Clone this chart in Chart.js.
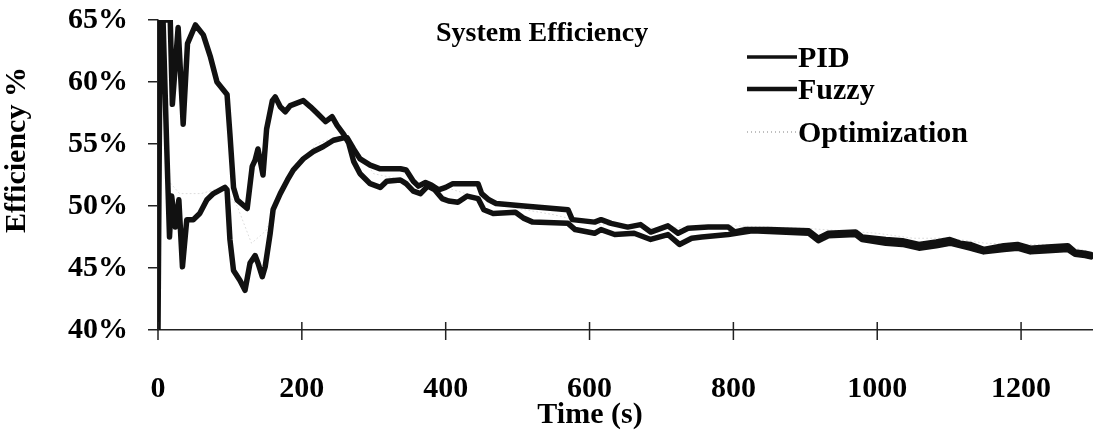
<!DOCTYPE html>
<html>
<head>
<meta charset="utf-8">
<script src="https://cdn.jsdelivr.net/npm/chart.js@4.4.1/dist/chart.umd.min.js"></script>
<style>
  html, body { margin: 0; padding: 0; background: #fff; }
  #wrap { width: 1093px; height: 438px; }
</style>
</head>
<body>
<div id="wrap"><canvas id="chart" width="1093" height="438"></canvas></div>
<script>
'use strict';

/* DATA */
const xTicks = [0, 200, 400, 600, 800, 1000, 1200];
const yTicks = [40, 45, 50, 55, 60, 65];
const seriesNames = ['PID', 'Fuzzy', 'Optimization'];

const pidTime = [0, 17, 20, 28, 35, 41, 52, 63, 73, 82, 89, 96, 100, 105, 110, 124, 131, 135, 139, 146,
  151, 159, 163, 170, 177, 184, 193, 202, 212, 221, 233, 242, 249, 258, 265, 272, 281, 295, 309, 318,
  337, 345, 355, 365, 375, 385, 395, 404, 417, 430, 445, 453, 466, 497, 509, 521, 570, 580, 607, 616,
  635, 662, 685, 709, 725, 742, 756, 793, 826, 905, 918, 932, 970, 979, 1012, 1035, 1058, 1082, 1101,
  1115, 1129, 1148, 1176, 1195, 1213, 1237, 1265, 1275, 1289, 1297];
const pidEff = [65, 65, 58.2, 64.4, 56.6, 63.1, 64.6, 63.8, 62.0, 60.0, 59.5, 59.0, 55.8, 51.5, 50.5, 49.8, 53.2, 53.7, 54.6, 52.5,
  56.2, 58.5, 58.8, 58.0, 57.6, 58.1, 58.3, 58.5, 58.0, 57.5, 56.8, 57.2, 56.5, 55.8, 55.1, 53.6, 52.6, 51.8, 51.5, 52.0,
  52.1, 51.8, 51.2, 51.0, 51.6, 51.3, 50.6, 50.4, 50.3, 50.8, 50.6, 49.7, 49.4, 49.5, 49.0, 48.7, 48.6, 48.1, 47.8, 48.1,
  47.7, 47.8, 47.3, 47.7, 46.9, 47.4, 47.5, 47.7, 48.0, 47.8, 47.2, 47.6, 47.7, 47.3, 47.0, 46.9, 46.6, 46.8, 47.0,
  46.8, 46.6, 46.3, 46.5, 46.6, 46.3, 46.4, 46.5, 46.1, 46.0, 45.9];

const fuzzyTime = [0, 3, 7, 12, 16, 19, 24, 29, 34, 40, 49, 58, 68, 77, 93, 96, 100, 105, 114, 121,
  128, 135, 139, 145, 149, 156, 160, 170, 180, 188, 202, 216, 230, 244, 258, 263, 272, 281, 295, 309,
  337, 345, 355, 362, 372, 380, 390, 400, 410, 445, 450, 460, 470, 509, 570, 576, 607, 616, 630, 653,
  671, 685, 709, 723, 737, 765, 793, 802, 816, 849, 905, 918, 932, 970, 979, 1012, 1035, 1058, 1082,
  1101, 1115, 1129, 1148, 1176, 1195, 1213, 1237, 1265, 1275, 1289, 1297];
const fuzzyEff = [40, 65, 65, 55, 47.5, 50.8, 48.3, 50.5, 45.1, 48.9, 48.9, 49.4, 50.5, 51.0, 51.5, 51.3, 47.3, 44.8, 44.0, 43.2,
  45.4, 46.0, 45.4, 44.3, 45.1, 47.8, 49.7, 51.0, 52.1, 52.9, 53.8, 54.4, 54.8, 55.3, 55.5, 55.5, 54.6, 53.8, 53.3, 53.0,
  53.0, 52.9, 52.0, 51.6, 51.9, 51.7, 51.3, 51.5, 51.8, 51.8, 51.0, 50.5, 50.2, 50.0, 49.7, 48.9, 48.7, 48.9, 48.6, 48.3,
  48.5, 47.9, 48.4, 47.8, 48.2, 48.3, 48.3, 47.9, 48.1, 48.1, 48.0, 47.4, 47.8, 47.9, 47.5, 47.3, 47.2, 46.9, 47.1,
  47.3, 47.0, 46.9, 46.5, 46.8, 46.9, 46.6, 46.7, 46.8, 46.3, 46.2, 46.1];

const optTime = [0, 5, 15, 30, 60, 90, 110, 130, 150, 180, 220, 260, 300, 350, 400, 450, 500, 550, 600,
  650, 700, 750, 800, 850, 900, 950, 1000, 1050, 1100, 1150, 1200, 1250, 1290];
const optEff = [40, 62, 52, 51, 51, 51.5, 50, 47, 48, 52, 55, 55.8, 52.6, 52, 51.5, 50.6, 49.8, 49.3, 48.6,
  48.3, 48.2, 48.3, 48.4, 48.3, 48.2, 48, 47.8, 47.4, 47.4, 47.0, 46.9, 46.9, 46.4];

/* HELPERS */
const serif = "'Liberation Serif', 'Times New Roman', serif";
function toPoints(times, values) {
  return times.map((t, i) => ({ x: t, y: values[i] }));
}

/* EXTRA DRAWING: titles, legend, crossing x ticks */
const decorations = {
  id: 'decorations',
  afterDraw(chart) {
    const ctx = chart.ctx;
    const xs = chart.scales.x;
    const area = chart.chartArea;
    ctx.save();

    // x ticks crossing the axis
    ctx.strokeStyle = '#222';
    ctx.lineWidth = 1.5;
    xTicks.forEach(v => {
      const px = xs.getPixelForValue(v);
      ctx.beginPath();
      ctx.moveTo(px, area.bottom - 8);
      ctx.lineTo(px, area.bottom + 10);
      ctx.stroke();
    });

    ctx.fillStyle = '#000';
    ctx.textBaseline = 'middle';

    // chart title
    ctx.font = 'bold 28px ' + serif;
    ctx.textAlign = 'left';
    ctx.fillText('System Efficiency', 436, 34);

    // legend
    const rows = [57, 89, 132];
    ctx.font = 'bold 30px ' + serif;
    chart.data.datasets.forEach((ds, i) => {
      ctx.save();
      ctx.strokeStyle = i === 2 ? '#aaa' : ds.borderColor;
      ctx.lineWidth = i === 2 ? 1.5 : (i === 0 ? 3.5 : 4.5);
      ctx.setLineDash(ds.borderDash || []);
      ctx.beginPath();
      ctx.moveTo(747, rows[i]);
      ctx.lineTo(797, rows[i]);
      ctx.stroke();
      ctx.restore();
      ctx.fillText(seriesNames[i], 798, rows[i] + 2);
    });

    // axis titles
    ctx.textAlign = 'center';
    ctx.fillText('Time (s)', 590, 415);
    ctx.translate(17, 150);
    ctx.rotate(-Math.PI / 2);
    ctx.fillText('Efficiency %', 0, 0);
    ctx.restore();
  }
};

/* CHART */
new Chart(document.getElementById('chart'), {
  type: 'line',
  data: {
    datasets: [
      {
        label: seriesNames[0],
        data: toPoints(pidTime, pidEff),
        borderColor: '#111',
        borderWidth: 5.5,
      },
      {
        label: seriesNames[1],
        data: toPoints(fuzzyTime, fuzzyEff),
        borderColor: '#111',
        borderWidth: 5.5,
      },
      {
        label: seriesNames[2],
        data: toPoints(optTime, optEff),
        borderColor: '#dcdcdc',
        borderWidth: 1,
        borderDash: [1, 3],
      }
    ]
  },
  options: {
    responsive: false,
    animation: false,
    devicePixelRatio: 1,
    layout: { padding: { top: 20, right: 0, left: 0, bottom: 0 } },
    elements: {
      point: { radius: 0 },
      line: { tension: 0, borderJoinStyle: 'round', borderCapStyle: 'round' }
    },
    plugins: {
      legend: { display: false },
      tooltip: { enabled: false }
    },
    scales: {
      x: {
        type: 'linear',
        min: 0,
        max: 1300,
        afterBuildTicks: scale => { scale.ticks = xTicks.map(v => ({ value: v })); },
        afterFit: scale => { scale.height = 108; },
        grid: { display: false },
        border: { display: true, color: '#222', width: 1.5 },
        ticks: {
          autoSkip: false,
          maxRotation: 0,
          padding: 33,
          color: '#000',
          font: { family: serif, size: 30, weight: 'bold' },
          callback: v => String(v)
        }
      },
      y: {
        min: 40,
        max: 65,
        afterBuildTicks: scale => { scale.ticks = yTicks.map(v => ({ value: v })); },
        afterFit: scale => {
          scale.width = 158;
          // don't let the label padding push the plot area down
          scale.paddingTop = 0;
          scale.paddingBottom = 0;
        },
        grid: { drawOnChartArea: false, tickLength: 10, color: '#222', lineWidth: 1.5 },
        border: { display: true, color: '#222', width: 1.5 },
        ticks: {
          padding: 20,
          color: '#000',
          font: { family: serif, size: 30, weight: 'bold' },
          callback: v => v + '%'
        }
      }
    }
  },
  plugins: [decorations]
});
</script>
</body>
</html>
